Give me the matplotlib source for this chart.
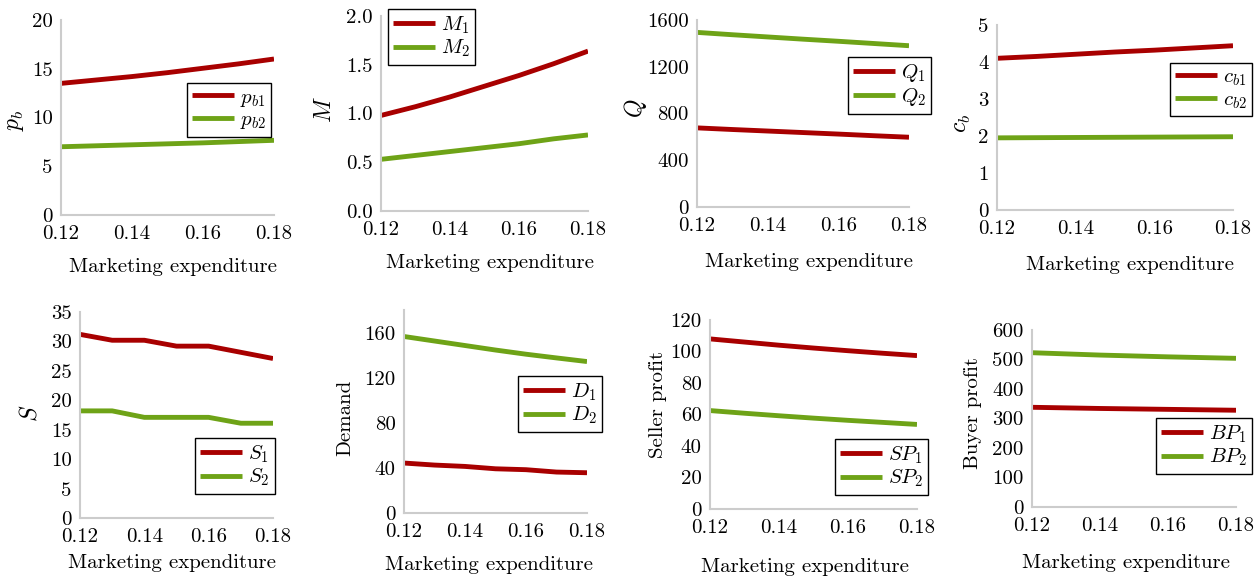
import matplotlib
matplotlib.use("Agg")
import matplotlib.pyplot as plt

plt.rcParams['font.family'] = 'cmr10'
plt.rcParams['mathtext.fontset'] = 'cm'
plt.rcParams['axes.formatter.use_mathtext'] = True

# marketing expenditure
x = [0.12, 0.13, 0.14, 0.15, 0.16, 0.17, 0.18]
xticks = [0.12, 0.14, 0.16, 0.18]

pb1 = [13.5, 13.85, 14.2, 14.6, 15.05, 15.5, 16.0]
pb2 = [7.0, 7.1, 7.2, 7.3, 7.4, 7.53, 7.66]
M1 = [0.98, 1.07, 1.17, 1.28, 1.39, 1.51, 1.64]
M2 = [0.53, 0.57, 0.61, 0.65, 0.69, 0.74, 0.78]
Q1 = [677, 663, 650, 637, 624, 610, 597]
Q2 = [1494, 1474, 1455, 1436, 1418, 1399, 1380]
cb1 = [4.10, 4.15, 4.21, 4.27, 4.32, 4.38, 4.44]
cb2 = [1.95, 1.955, 1.96, 1.965, 1.97, 1.975, 1.98]
S1 = [31.2, 30.2, 30.2, 29.2, 29.2, 28.15, 27.1]
S2 = [18.2, 18.2, 17.1, 17.1, 17.1, 16.1, 16.1]
D1 = [44.3, 42.5, 41.3, 39.2, 38.4, 36.3, 35.7]
D2 = [156.5, 152.5, 148.5, 144.5, 140.8, 137.5, 134.3]
SP1 = [108, 106, 104, 102.2, 100.5, 98.9, 97.4]
SP2 = [62.5, 60.8, 59.2, 57.7, 56.3, 55.0, 53.7]
BP1 = [338, 336, 334, 332.5, 331, 329.5, 328]
BP2 = [523, 519, 515, 512, 509, 506.5, 504]

panels = [
    (pb1, pb2, r'$p_{b1}$', r'$p_{b2}$', r'$p_b$', [0, 5, 10, 15, 20], ['0', '5', '10', '15', '20'], 20),
    (M1, M2, r'$M_1$', r'$M_2$', r'$M$', [0, 0.5, 1.0, 1.5, 2.0], ['0.0', '0.5', '1.0', '1.5', '2.0'], 2.0),
    (Q1, Q2, r'$Q_1$', r'$Q_2$', r'$Q$', [0, 400, 800, 1200, 1600], ['0', '400', '800', '1200', '1600'], 1600),
    (cb1, cb2, r'$c_{b1}$', r'$c_{b2}$', r'$c_b$', [0, 1, 2, 3, 4, 5], ['0', '1', '2', '3', '4', '5'], 5),
    (S1, S2, r'$S_1$', r'$S_2$', r'$S$', list(range(0, 36, 5)), [str(v) for v in range(0, 36, 5)], 35),
    (D1, D2, r'$D_1$', r'$D_2$', 'Demand', [0, 40, 80, 120, 160], ['0', '40', '80', '120', '160'], 180),
    (SP1, SP2, r'$SP_1$', r'$SP_2$', 'Seller profit', list(range(0, 121, 20)), [str(v) for v in range(0, 121, 20)], 120),
    (BP1, BP2, r'$BP_1$', r'$BP_2$', 'Buyer profit', list(range(0, 601, 100)), [str(v) for v in range(0, 601, 100)], 600),
]

# layout in pixels: axes box (left, top, right, bottom), legend (left, top),
# ylabel centre, xlabel centre
W, H = 1259, 578
boxes = [(61, 20, 274, 215), (381, 16, 588, 211), (697, 20, 909, 207), (997, 25, 1233, 210),
         (80, 312, 273, 518), (404, 310, 587, 513), (710, 320, 917, 509), (1032, 330, 1236, 507)]
legpos = [(187, 83), (388, 9), (848, 57), (1170, 63), (195, 438), (518, 376), (835, 439), (1156, 418)]
ylabpos = [(15, 120), (325, 110), (636, 108), (962, 123), (30, 413), (345, 418), (658, 405), (973, 413)]
xlabpos = [(173, 267), (490, 263), (809, 262), (1130, 265), (172, 563), (489, 565), (805, 567), (1126, 563)]

red = '#A80000'
green = '#6EA317'

fig = plt.figure(figsize=(W / 100, H / 100), dpi=100)

for i, (y1, y2, l1, l2, ylab, yt, ytl, ymax) in enumerate(panels):
    l, t, r, b = boxes[i]
    ax = fig.add_axes([l / W, 1 - b / H, (r - l) / W, (b - t) / H])
    ax.plot(x, y1, color=red, lw=3.5, label=l1, solid_capstyle='butt')
    ax.plot(x, y2, color=green, lw=3.5, label=l2, solid_capstyle='butt')
    ax.set_xlim(0.12, 0.18)
    ax.set_ylim(0, ymax)
    ax.set_xticks(xticks)
    ax.set_xticklabels(['0.12', '0.14', '0.16', '0.18'])
    ax.set_yticks(yt)
    ax.set_yticklabels(ytl)
    ax.tick_params(length=0, labelsize=15)
    ax.tick_params(axis='x', pad=7)
    ax.tick_params(axis='y', pad=6)
    for s in ['top', 'right']:
        ax.spines[s].set_visible(False)
    for s in ['left', 'bottom']:
        ax.spines[s].set_color('#cccccc')
        ax.spines[s].set_linewidth(1.5)
    lx, ly = legpos[i]
    leg = ax.legend(loc='upper left', bbox_to_anchor=(lx / W, 1 - ly / H),
                    bbox_transform=fig.transFigure, borderaxespad=0,
                    fontsize=15, frameon=True, fancybox=False, framealpha=1,
                    handlelength=2.0, handletextpad=0.3, labelspacing=0.1,
                    borderpad=0.25)
    leg.get_frame().set_edgecolor('black')
    leg.get_frame().set_linewidth(1.0)
    yx, yy = ylabpos[i]
    ysize = 17 if ylab.startswith('$') else 15
    fig.text(yx / W, 1 - yy / H, ylab, rotation=90, ha='center', va='center', fontsize=ysize)
    xx, xy = xlabpos[i]
    fig.text(xx / W, 1 - xy / H, 'Marketing expenditure', ha='center', va='center', fontsize=15)

fig.savefig('out.png', dpi=100)
